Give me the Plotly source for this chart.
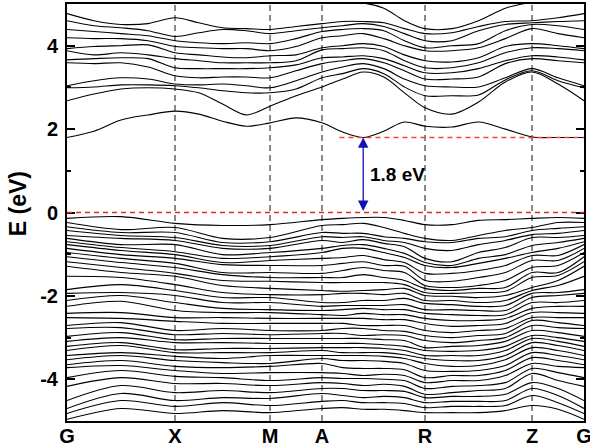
import numpy as np
import plotly.graph_objects as go

# ---- k-path -------------------------------------------------------------
K_LABELS = ["G", "X", "M", "A", "R", "Z", "G"]
K_NODES = [0.0, 1.0, 1.880, 2.361, 3.315, 4.306, 4.787]
SEG_STEPS = [4, 4, 2, 5, 4, 2]          # sampled k-points per segment

k = []
for i, n in enumerate(SEG_STEPS):
    k.extend(np.linspace(K_NODES[i], K_NODES[i + 1], n, endpoint=False))
k.append(K_NODES[-1])
k = np.array(k)

# valence levels are tabulated on a subset of the k-points
VB_IDX = [0, 2, 4, 6, 8, 10, 11, 12, 13, 14, 15, 16, 17, 18, 19, 20, 21]

# ---- conduction bands (eV), one row per band ------------------------------
CB1 = [1.80, 1.95, 2.22, 2.34, 2.43, 2.36, 2.19, 2.07, 2.15, 2.27, 2.15, 1.93, 1.80, 1.95, 2.17, 2.07, 2.05, 2.17, 2.00, 1.81, 1.80, 1.80]
CB2 = [2.68, 2.84, 2.96, 2.99, 2.96, 2.87, 2.60, 2.34, 2.55, 2.80, 3.01, 3.20, 3.37, 3.25, 2.87, 2.51, 2.36, 2.65, 3.13, 3.37, 3.08, 2.68]
CB3 = [2.99, 3.01, 3.06, 3.06, 3.04, 2.99, 2.92, 2.87, 2.87, 2.96, 3.23, 3.33, 3.45, 3.33, 3.01, 2.80, 2.80, 2.82, 3.18, 3.40, 3.16, 2.99]
CB4 = [3.04, 3.16, 3.23, 3.20, 3.08, 3.06, 3.08, 3.04, 2.99, 3.16, 3.37, 3.49, 3.57, 3.45, 3.20, 3.04, 3.01, 3.01, 3.23, 3.45, 3.23, 3.04]
CB5 = [3.59, 3.57, 3.59, 3.49, 3.28, 3.23, 3.25, 3.25, 3.23, 3.40, 3.57, 3.64, 3.69, 3.59, 3.40, 3.20, 3.20, 3.25, 3.57, 3.69, 3.64, 3.59]
CB6 = [3.66, 3.69, 3.71, 3.69, 3.47, 3.45, 3.45, 3.45, 3.47, 3.54, 3.71, 3.73, 3.76, 3.69, 3.52, 3.35, 3.35, 3.45, 3.64, 3.76, 3.73, 3.66]
CB7 = [3.88, 3.78, 3.83, 3.78, 3.69, 3.64, 3.59, 3.59, 3.59, 3.64, 3.90, 3.93, 3.95, 3.88, 3.64, 3.47, 3.47, 3.59, 3.83, 3.95, 3.93, 3.88]
CB8 = [3.93, 3.98, 4.00, 4.02, 3.83, 3.78, 3.73, 3.71, 3.76, 3.78, 3.95, 4.00, 4.05, 3.98, 3.78, 3.64, 3.61, 3.71, 3.98, 4.05, 4.00, 3.93]
CB9 = [4.19, 4.17, 4.17, 4.12, 3.98, 3.95, 3.93, 3.93, 3.88, 3.98, 4.19, 4.24, 4.29, 4.17, 4.00, 3.88, 3.88, 3.95, 4.17, 4.41, 4.29, 4.19]
CB10 = [4.39, 4.34, 4.29, 4.24, 4.12, 4.07, 4.05, 4.07, 4.05, 4.17, 4.34, 4.39, 4.41, 4.36, 4.12, 3.95, 4.00, 4.05, 4.36, 4.51, 4.48, 4.39]
CB11 = [4.60, 4.48, 4.43, 4.36, 4.22, 4.31, 4.39, 4.36, 4.29, 4.36, 4.43, 4.48, 4.53, 4.46, 4.29, 4.12, 4.12, 4.36, 4.51, 4.55, 4.58, 4.60]
CB12 = [4.77, 4.60, 4.51, 4.53, 4.67, 4.55, 4.43, 4.41, 4.39, 4.46, 4.53, 4.58, 4.58, 4.55, 4.41, 4.29, 4.31, 4.46, 4.58, 4.60, 4.67, 4.77]
CB13 = [5.30, 5.25, 5.20, 5.15, 5.10, 5.05, 5.02, 5.02, 5.02, 5.02, 5.02, 5.02, 5.02, 4.90, 4.60, 4.41, 4.41, 4.60, 4.90, 5.05, 5.20, 5.30]
CONDUCTION = [CB1, CB2, CB3, CB4, CB5, CB6, CB7, CB8, CB9, CB10, CB11, CB12, CB13]

# ---- valence levels (eV), one list per k-point of VB_IDX ------------------
VB_G = [-0.14, -0.24, -0.34, -0.43, -0.55, -0.62, -0.70, -0.77, -0.86, -0.96, -1.06, -1.18, -1.29, -1.53, -1.85, -1.94, -2.11, -2.25, -2.42, -2.52, -2.71, -2.78, -2.97, -3.09, -3.21, -3.31, -3.43, -3.53, -3.65, -3.72, -3.96, -4.17, -4.51, -4.70, -4.82, -4.96]
VB_GX = [-0.10, -0.41, -0.48, -0.55, -0.62, -0.77, -0.84, -0.91, -1.01, -1.10, -1.20, -1.32, -1.44, -1.56, -1.73, -1.92, -1.99, -2.13, -2.40, -2.54, -2.64, -2.76, -2.88, -3.00, -3.12, -3.19, -3.36, -3.43, -3.55, -3.67, -3.79, -3.96, -4.15, -4.34, -4.51, -4.70]
VB_X = [-0.26, -0.36, -0.48, -0.60, -0.67, -0.77, -0.94, -1.01, -1.10, -1.22, -1.32, -1.46, -1.53, -1.73, -1.87, -1.99, -2.16, -2.35, -2.52, -2.61, -2.83, -2.93, -3.05, -3.12, -3.29, -3.36, -3.45, -3.55, -3.69, -3.79, -3.93, -4.10, -4.32, -4.51, -4.65, -4.82]
VB_XM = [-0.31, -0.62, -0.72, -0.79, -0.86, -1.01, -1.10, -1.20, -1.25, -1.44, -1.49, -1.63, -1.75, -1.92, -2.04, -2.16, -2.30, -2.40, -2.52, -2.66, -2.78, -2.90, -3.02, -3.12, -3.26, -3.36, -3.50, -3.60, -3.72, -3.86, -3.96, -4.10, -4.27, -4.44, -4.56, -4.75]
VB_M = [-0.29, -0.60, -0.70, -0.79, -0.86, -0.96, -1.06, -1.15, -1.27, -1.44, -1.56, -1.65, -1.82, -1.97, -2.04, -2.16, -2.33, -2.40, -2.54, -2.66, -2.83, -2.93, -3.02, -3.14, -3.26, -3.36, -3.43, -3.62, -3.69, -3.84, -4.03, -4.15, -4.32, -4.46, -4.63, -4.80]
VB_A = [-0.17, -0.31, -0.48, -0.58, -0.67, -0.86, -0.96, -1.10, -1.27, -1.46, -1.56, -1.68, -1.87, -1.97, -2.16, -2.25, -2.35, -2.45, -2.54, -2.66, -2.83, -2.90, -3.02, -3.14, -3.24, -3.31, -3.43, -3.50, -3.62, -3.84, -3.96, -4.08, -4.22, -4.34, -4.53, -4.70]
VB_AR1 = [-0.14, -0.29, -0.50, -0.60, -0.72, -0.79, -0.86, -1.08, -1.22, -1.39, -1.56, -1.68, -1.89, -1.94, -2.16, -2.23, -2.33, -2.47, -2.54, -2.66, -2.78, -2.90, -3.02, -3.14, -3.24, -3.36, -3.43, -3.55, -3.72, -3.86, -3.98, -4.10, -4.22, -4.39, -4.51, -4.68]
VB_AR2 = [-0.12, -0.26, -0.50, -0.58, -0.65, -0.77, -0.86, -1.03, -1.18, -1.32, -1.49, -1.68, -1.87, -1.94, -2.11, -2.23, -2.30, -2.42, -2.54, -2.71, -2.78, -2.95, -3.02, -3.14, -3.24, -3.36, -3.43, -3.55, -3.74, -3.91, -3.98, -4.15, -4.27, -4.44, -4.56, -4.72]
VB_AR3 = [-0.12, -0.36, -0.58, -0.67, -0.74, -0.86, -0.96, -1.13, -1.27, -1.39, -1.56, -1.68, -1.85, -1.97, -2.11, -2.23, -2.33, -2.45, -2.57, -2.71, -2.83, -2.93, -3.05, -3.17, -3.26, -3.36, -3.45, -3.57, -3.74, -3.88, -4.00, -4.12, -4.27, -4.41, -4.56, -4.72]
VB_AR4 = [-0.19, -0.50, -0.62, -0.72, -0.82, -0.98, -1.08, -1.20, -1.29, -1.44, -1.63, -1.73, -1.82, -1.94, -2.06, -2.21, -2.33, -2.45, -2.57, -2.71, -2.85, -2.95, -3.07, -3.21, -3.31, -3.41, -3.50, -3.62, -3.77, -3.91, -4.03, -4.17, -4.29, -4.44, -4.58, -4.75]
VB_R = [-0.29, -0.62, -0.70, -0.86, -1.10, -1.20, -1.27, -1.46, -1.63, -1.75, -1.82, -1.92, -1.99, -2.11, -2.18, -2.33, -2.42, -2.54, -2.66, -2.83, -2.95, -3.07, -3.24, -3.31, -3.43, -3.50, -3.62, -3.79, -3.96, -4.08, -4.22, -4.36, -4.44, -4.56, -4.68, -4.80]
VB_RZ1 = [-0.29, -0.67, -0.72, -0.91, -1.18, -1.27, -1.32, -1.46, -1.65, -1.80, -1.87, -1.94, -2.01, -2.11, -2.21, -2.33, -2.45, -2.59, -2.73, -2.88, -3.00, -3.12, -3.21, -3.33, -3.43, -3.55, -3.69, -3.81, -3.91, -4.03, -4.17, -4.32, -4.41, -4.53, -4.65, -4.80]
VB_RZ2 = [-0.19, -0.55, -0.62, -0.77, -0.96, -1.10, -1.22, -1.39, -1.56, -1.75, -1.82, -1.92, -2.04, -2.16, -2.25, -2.35, -2.47, -2.59, -2.71, -2.83, -2.95, -3.07, -3.19, -3.31, -3.43, -3.55, -3.67, -3.79, -3.91, -4.03, -4.15, -4.27, -4.41, -4.53, -4.65, -4.80]
VB_RZ3 = [-0.17, -0.43, -0.58, -0.67, -0.84, -1.01, -1.10, -1.27, -1.44, -1.63, -1.80, -1.89, -1.99, -2.11, -2.23, -2.35, -2.45, -2.54, -2.66, -2.78, -2.90, -3.00, -3.09, -3.21, -3.31, -3.43, -3.53, -3.67, -3.79, -3.91, -4.08, -4.22, -4.36, -4.51, -4.63, -4.75]
VB_Z = [-0.14, -0.36, -0.43, -0.53, -0.60, -0.79, -0.96, -1.03, -1.15, -1.32, -1.44, -1.56, -1.80, -1.87, -1.94, -2.04, -2.16, -2.30, -2.40, -2.52, -2.59, -2.71, -2.83, -2.95, -3.02, -3.12, -3.24, -3.36, -3.48, -3.62, -3.74, -3.86, -4.08, -4.22, -4.39, -4.63]
VB_ZG = [-0.12, -0.24, -0.38, -0.50, -0.60, -0.72, -0.86, -1.03, -1.15, -1.27, -1.44, -1.51, -1.63, -1.75, -1.92, -1.99, -2.16, -2.25, -2.40, -2.52, -2.64, -2.76, -2.88, -3.00, -3.09, -3.19, -3.31, -3.43, -3.55, -3.69, -3.84, -4.03, -4.22, -4.39, -4.56, -4.72]
VALENCE_BY_K = [VB_G, VB_GX, VB_X, VB_XM, VB_M, VB_A, VB_AR1, VB_AR2, VB_AR3,
                VB_AR4, VB_R, VB_RZ1, VB_RZ2, VB_RZ3, VB_Z, VB_ZG, VB_G]

E_TICKS = [-4, -2, 0, 2, 4]
E_TICK_TEXT = ["-4", "-2", "0", "2", "4"]

VBM = 0.0
GAP = 1.8

FONT = "Arial, Liberation Sans, sans-serif"

fig = go.Figure()

band_line = dict(color="black", width=1.1, shape="spline", smoothing=0.9)
for band in CONDUCTION:
    fig.add_trace(go.Scatter(x=k, y=band, mode="lines", line=band_line,
                             hoverinfo="skip", showlegend=False))

k_vb = k[VB_IDX]
for band in np.array(VALENCE_BY_K).T:
    fig.add_trace(go.Scatter(x=k_vb, y=band, mode="lines", line=band_line,
                             hoverinfo="skip", showlegend=False))

# high-symmetry separators
for kn in K_NODES[1:-1]:
    fig.add_shape(type="line", xref="x", yref="paper", x0=kn, x1=kn, y0=0, y1=1,
                  line=dict(color="#3a3a3a", width=1.2, dash="6px,4px"), layer="below")

# band edges
cbm_k = k[int(np.argmin(CB1[8:16])) + 8]
fig.add_shape(type="line", xref="x", yref="y", x0=0, x1=K_NODES[-1], y0=VBM, y1=VBM,
              line=dict(color="#e8262a", width=1.4, dash="5px,4px"))
fig.add_shape(type="line", xref="x", yref="y", x0=cbm_k - 0.22, x1=K_NODES[-1],
              y0=VBM + GAP, y1=VBM + GAP,
              line=dict(color="#ff3c3c", width=1.5, dash="5px,4px"))

# gap arrow and label
fig.add_annotation(x=cbm_k, y=VBM + GAP, ax=cbm_k, ay=VBM, xref="x", yref="y",
                   axref="x", ayref="y", text="", showarrow=True,
                   arrowhead=2, arrowside="end+start", arrowsize=1.6,
                   arrowwidth=1.3, arrowcolor="#1010b8")
fig.add_annotation(x=cbm_k + 0.04, y=VBM + GAP / 2, xref="x", yref="y",
                   text=f"<b>{GAP:.1f} eV</b>", showarrow=False,
                   xanchor="left", yanchor="middle",
                   font=dict(family=FONT, size=19, color="black"))

# energy axis title, set slightly above the axis centre
fig.add_annotation(x=-0.095, y=0.522, xref="paper", yref="paper",
                   text="<b>E (eV)</b>", textangle=-90, showarrow=False,
                   xanchor="center", yanchor="middle",
                   font=dict(family=FONT, size=23, color="black"))

fig.update_layout(
    width=590, height=448,
    margin=dict(l=67, r=6, t=4, b=27),
    paper_bgcolor="white", plot_bgcolor="white",
    font=dict(family=FONT, color="black"),
    xaxis=dict(
        range=[0, K_NODES[-1]], tickvals=K_NODES, ticktext=K_LABELS,
        showgrid=False, zeroline=False, ticks="",
        showline=True, mirror=True, linecolor="black", linewidth=2,
        tickfont=dict(family=FONT, size=20, color="black", weight="bold"),
        ticklabelstandoff=-4, ticklabeloverflow="allow",
        automargin=False,
    ),
    yaxis=dict(
        range=[-5, 5], tickvals=E_TICKS, ticktext=E_TICK_TEXT,
        showgrid=False, zeroline=False,
        ticks="inside", ticklen=8, tickwidth=2, tickcolor="black",
        minor=dict(tickmode="linear", tick0=0, dtick=1, ticks="inside",
                   ticklen=4, tickwidth=1.5, tickcolor="black"),
        showline=True, mirror="ticks", linecolor="black", linewidth=2,
        tickfont=dict(family=FONT, size=20, color="black", weight="bold"),
        ticklabelstandoff=3,
        automargin=False,
    ),
)

fig.write_html("out.html")
